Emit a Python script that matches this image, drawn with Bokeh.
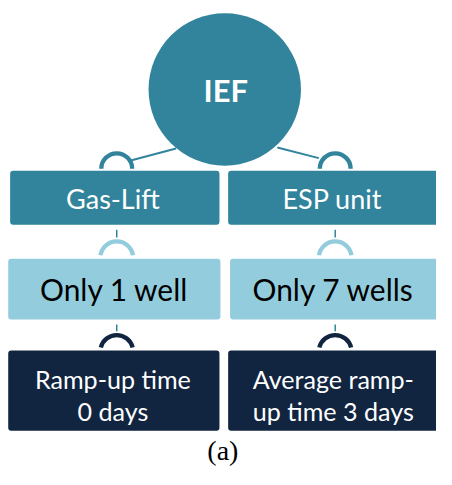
from bokeh.plotting import figure
from bokeh.models import Range1d
from bokeh.core.properties import value
from bokeh.embed import file_html
from bokeh.resources import INLINE
import math

# ---- data ----
root_label = "IEF"
methods = ["Gas-Lift", "ESP unit"]
wells = ["Only 1 well", "Only 7 wells"]
rampup_line1 = ["Ramp-up time", "Average ramp-"]
rampup_line2 = ["0 days", "up time 3 days"]
caption = "(a)"

# ---- layout (reference pixel coordinates, scaled into the figure) ----
W, H = 436, 469
REF_W, REF_H = 452, 485
S = W / REF_W

TEAL = "#31849B"
LIGHT = "#93CDDD"
NAVY = "#112540"

col_center = [120.5, 347]
lvl1 = (176, 232)
lvl2 = (267, 330)
lvl3 = (362, 445)
root_x, root_y, root_r = 232.5, 92, 79


def px(v):
    return f"{v * S:.1f}px"


p = figure(width=W, height=H, x_range=Range1d(0, REF_W), y_range=Range1d(REF_H, 0),
           output_backend="svg", toolbar_location=None, min_border=0)
p.axis.visible = False
p.grid.visible = False
p.outline_line_color = None
p.background_fill_color = "white"
p.border_fill_color = "white"

# connector lines from root to level-1 arcs
p.multi_line(xs=[[182, 133], [287, 330]], ys=[[153, 166], [152, 163]],
             line_color=TEAL, line_width=2 * S)

# arcs
p.arc(x=col_center, y=[lvl1[0] - 2] * 2, radius=16, start_angle=0, end_angle=math.pi,
      direction="anticlock", line_color=TEAL, line_width=4.5 * S)
p.arc(x=col_center, y=[lvl2[0] - 1] * 2, radius=17, start_angle=0.15, end_angle=math.pi - 0.15,
      direction="anticlock", line_color=LIGHT, line_width=4.5 * S)
p.arc(x=col_center, y=[lvl3[0] + 1] * 2, radius=17, start_angle=0.25, end_angle=math.pi - 0.25,
      direction="anticlock", line_color=NAVY, line_width=4.5 * S)

# little ticks
p.segment(x0=col_center, y0=[237] * 2, x1=col_center, y1=[245] * 2, line_color=TEAL, line_width=1.5)
p.segment(x0=col_center, y0=[335] * 2, x1=col_center, y1=[342] * 2, line_color=TEAL, line_width=1.5)

# root circle
p.circle(x=[root_x], y=[root_y], radius=root_r, fill_color=TEAL, line_color=None)
p.text(x=[233.5], y=[root_y + 1], text=[root_label], text_color="white",
       text_font=value("Lato"), text_font_style="bold", text_font_size=px(32),
       text_align="center", text_baseline="middle")

# boxes
p.quad(left=[10, 236], right=[227, 460], top=[lvl1[0]] * 2, bottom=[lvl1[1]] * 2,
       fill_color=TEAL, line_color=None, border_radius=3)
p.quad(left=[8, 238], right=[228, 460], top=[lvl2[0]] * 2, bottom=[lvl2[1]] * 2,
       fill_color=LIGHT, line_color=None, border_radius=3)
p.quad(left=[8, 236], right=[227, 460], top=[lvl3[0]] * 2, bottom=[lvl3[1]] * 2,
       fill_color=NAVY, line_color=None, border_radius=3)

p.text(x=[116.5, 344], y=[205] * 2, text=methods, text_color="white",
       text_font=value("Lato"), text_font_size=px(28),
       text_align="center", text_baseline="middle")
p.text(x=[118, 345], y=[298] * 2, text=wells, text_color="black",
       text_font=value("Lato"), text_font_size=px(31),
       text_align="center", text_baseline="middle")
p.text(x=[116.5, 345], y=[391] * 2, text=rampup_line1, text_color="white",
       text_font=value("Lato"), text_font_size=px(26),
       text_align="center", text_baseline="middle")
p.text(x=[116.5, 345], y=[425] * 2, text=rampup_line2, text_color="white",
       text_font=value("Lato"), text_font_size=px(26),
       text_align="center", text_baseline="middle")

p.text(x=[230.5], y=[465], text=[caption], text_color="black",
       text_font=value("Liberation Serif"), text_font_size=px(29),
       text_align="center", text_baseline="middle")

open("out.html", "w").write(file_html(p, INLINE))
